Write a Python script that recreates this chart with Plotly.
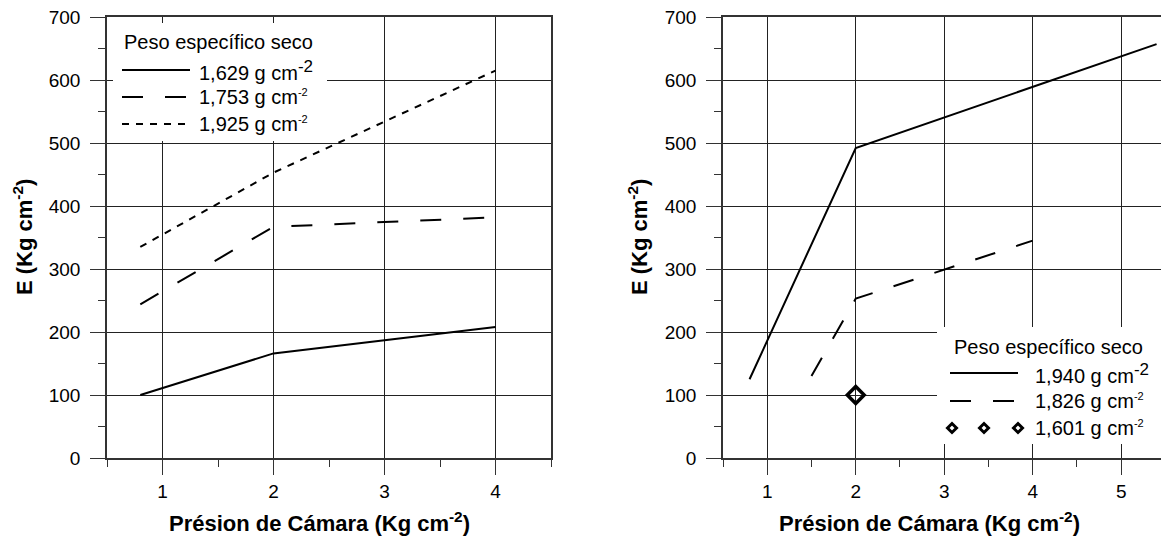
import plotly.graph_objects as go

# ---------------- data ----------------
# Left panel
pressure_1629 = [0.8, 2, 4]
E_1629 = [100, 166, 208]
pressure_1753 = [0.8, 2, 4]
E_1753 = [244, 367, 382]
pressure_1925 = [0.8, 2, 4]
E_1925 = [335, 453, 615]

# Right panel
pressure_1940 = [0.8, 2, 5.4]
E_1940 = [125, 492, 657]
pressure_1826 = [1.5, 2, 4]
E_1826 = [130, 253, 345]
pressure_1601 = [2]
E_1601 = [100]

left_names = ["1,629 g cm-2", "1,753 g cm-2", "1,925 g cm-2"]
right_names = ["1,940 g cm-2", "1,826 g cm-2", "1,601 g cm-2"]
legend_title = "Peso específico seco"
x_title = "Présion de Cámara (Kg cm<sup>-2</sup>)"
y_title = "E (Kg cm<sup>-2</sup>)"

# ---------------- layout geometry ----------------
W, H = 1161, 540
MT, MB = 17, 82
PH = H - MT - MB
FONT = "Liberation Sans, Arial, sans-serif"
DASH_LONG = "21px,22px"
DASH_SHORT = "7px,7px"


def px_x(p):
    return p / W


def px_y(p):
    return (H - MB - p) / PH


fig = go.Figure()

# left traces
fig.add_trace(go.Scatter(x=pressure_1629, y=E_1629, mode="lines", name=left_names[0],
                         line=dict(color="black", width=2), xaxis="x", yaxis="y"))
fig.add_trace(go.Scatter(x=pressure_1753, y=E_1753, mode="lines", name=left_names[1],
                         line=dict(color="black", width=2, dash=DASH_LONG), xaxis="x", yaxis="y"))
fig.add_trace(go.Scatter(x=pressure_1925, y=E_1925, mode="lines", name=left_names[2],
                         line=dict(color="black", width=2, dash=DASH_SHORT), xaxis="x", yaxis="y"))
# right traces
fig.add_trace(go.Scatter(x=pressure_1940, y=E_1940, mode="lines", name=right_names[0],
                         line=dict(color="black", width=2), xaxis="x2", yaxis="y2"))
fig.add_trace(go.Scatter(x=pressure_1826, y=E_1826, mode="lines", name=right_names[1],
                         line=dict(color="black", width=2, dash=DASH_LONG), xaxis="x2", yaxis="y2"))
fig.add_trace(go.Scatter(x=pressure_1601, y=E_1601, mode="markers", name=right_names[2],
                         marker=dict(symbol="diamond-open", size=13, color="black",
                                     line=dict(color="black", width=3.5)),
                         xaxis="x2", yaxis="y2"))

axis_common = dict(
    showline=True, linecolor="#333", linewidth=1.5, mirror=True,
    showgrid=True, gridcolor="#222", gridwidth=1,
    ticks="outside", ticklen=15, tickwidth=1, tickcolor="#333",
    tickfont=dict(family=FONT, size=19, color="black"),
    zeroline=False, fixedrange=True,
)

fig.update_layout(
    width=W, height=H,
    margin=dict(l=0, r=0, t=MT, b=MB, pad=0),
    paper_bgcolor="white", plot_bgcolor="white",
    showlegend=False,
    xaxis=dict(axis_common, domain=[px_x(107), px_x(551)], range=[0.5, 4.5],
               dtick=1, tick0=0, anchor="y", ticklabelstandoff=0,
               minor=dict(dtick=0.5, ticks="outside", ticklen=7, tickcolor="#333", showgrid=False)),
    yaxis=dict(axis_common, domain=[0, 1], range=[0, 700], dtick=100, anchor="x",
               ticklabelstandoff=6,
               minor=dict(dtick=50, ticks="outside", ticklen=7, tickcolor="#333", showgrid=False)),
    xaxis2=dict(axis_common, domain=[px_x(723), 1.0], range=[0.5, 5.45],
                dtick=1, tick0=0, anchor="y2", ticklabelstandoff=0,
                minor=dict(dtick=0.5, ticks="outside", ticklen=7, tickcolor="#333", showgrid=False)),
    yaxis2=dict(axis_common, domain=[0, 1], range=[0, 700], dtick=100, anchor="x2",
                ticklabelstandoff=6, mirror=False,
                minor=dict(dtick=50, ticks="outside", ticklen=7, tickcolor="#333", showgrid=False)),
)

annotations = []
shapes = []

# axis titles
title_font = dict(family=FONT, size=22, color="black")
for cx in (319, 929):
    annotations.append(dict(text="<b>" + x_title + "</b>", x=px_x(cx), y=px_y(522),
                            xref="paper", yref="paper", showarrow=False,
                            xanchor="center", yanchor="middle", font=title_font))
for cx in (23, 638):
    annotations.append(dict(text="<b>" + y_title + "</b>", x=px_x(cx), y=px_y(237),
                            xref="paper", yref="paper", showarrow=False, textangle=-90,
                            xanchor="center", yanchor="middle", font=title_font))


def sup_label(name, big):
    base, exp = name.rsplit("-", 1)
    size = 17 if big else 11
    return base + "<sup><span style='font-size:%dpx'>-%s</span></sup>" % (size, exp)


def add_legend(box, title_pos, rows_y, sample_x, text_x, names, styles):
    x0, y0, x1, y1 = box
    shapes.append(dict(type="rect", xref="paper", yref="paper",
                       x0=px_x(x0), x1=px_x(x1), y0=px_y(y1), y1=px_y(y0),
                       fillcolor="white", line=dict(width=0), layer="above"))
    leg_font = dict(family=FONT, size=20, color="black")
    annotations.append(dict(text=legend_title, x=px_x(title_pos[0]), y=px_y(title_pos[1]),
                            xref="paper", yref="paper", showarrow=False,
                            xanchor="left", yanchor="middle", font=leg_font))
    for i, (ry, name, st) in enumerate(zip(rows_y, names, styles)):
        annotations.append(dict(text=sup_label(name, i == 0), x=px_x(text_x), y=px_y(ry),
                                xref="paper", yref="paper", showarrow=False,
                                xanchor="left", yanchor="middle", font=leg_font))
        if st == "diamond":
            for cx in (sample_x[0] + 2, (sample_x[0] + sample_x[1]) / 2, sample_x[1]):
                r = 4.5
                path = "M {:.5f},{:.5f} L {:.5f},{:.5f} L {:.5f},{:.5f} L {:.5f},{:.5f} Z".format(
                    px_x(cx - r), px_y(ry), px_x(cx), px_y(ry - r),
                    px_x(cx + r), px_y(ry), px_x(cx), px_y(ry + r))
                shapes.append(dict(type="path", xref="paper", yref="paper", path=path,
                                   line=dict(color="black", width=3), fillcolor="white",
                                   layer="above"))
        else:
            dash = {"solid": "solid", "long": DASH_LONG, "short": DASH_SHORT}[st]
            shapes.append(dict(type="line", xref="paper", yref="paper",
                               x0=px_x(sample_x[0]), x1=px_x(sample_x[1]),
                               y0=px_y(ry), y1=px_y(ry),
                               line=dict(color="black", width=2, dash=dash), layer="above"))


add_legend(box=(113, 23, 327, 141), title_pos=(122, 42), rows_y=(70, 97, 124),
           sample_x=(122, 190), text_x=197, names=left_names,
           styles=("solid", "long", "short"))
add_legend(box=(937, 327, 1161, 444), title_pos=(952, 347), rows_y=(373, 401, 428),
           sample_x=(950, 1018), text_x=1033, names=right_names,
           styles=("solid", "long", "diamond"))

fig.update_layout(annotations=annotations, shapes=shapes)

fig.write_html("out.html", config={"displayModeBar": False},
               post_script="document.body.style.margin='0px';")
